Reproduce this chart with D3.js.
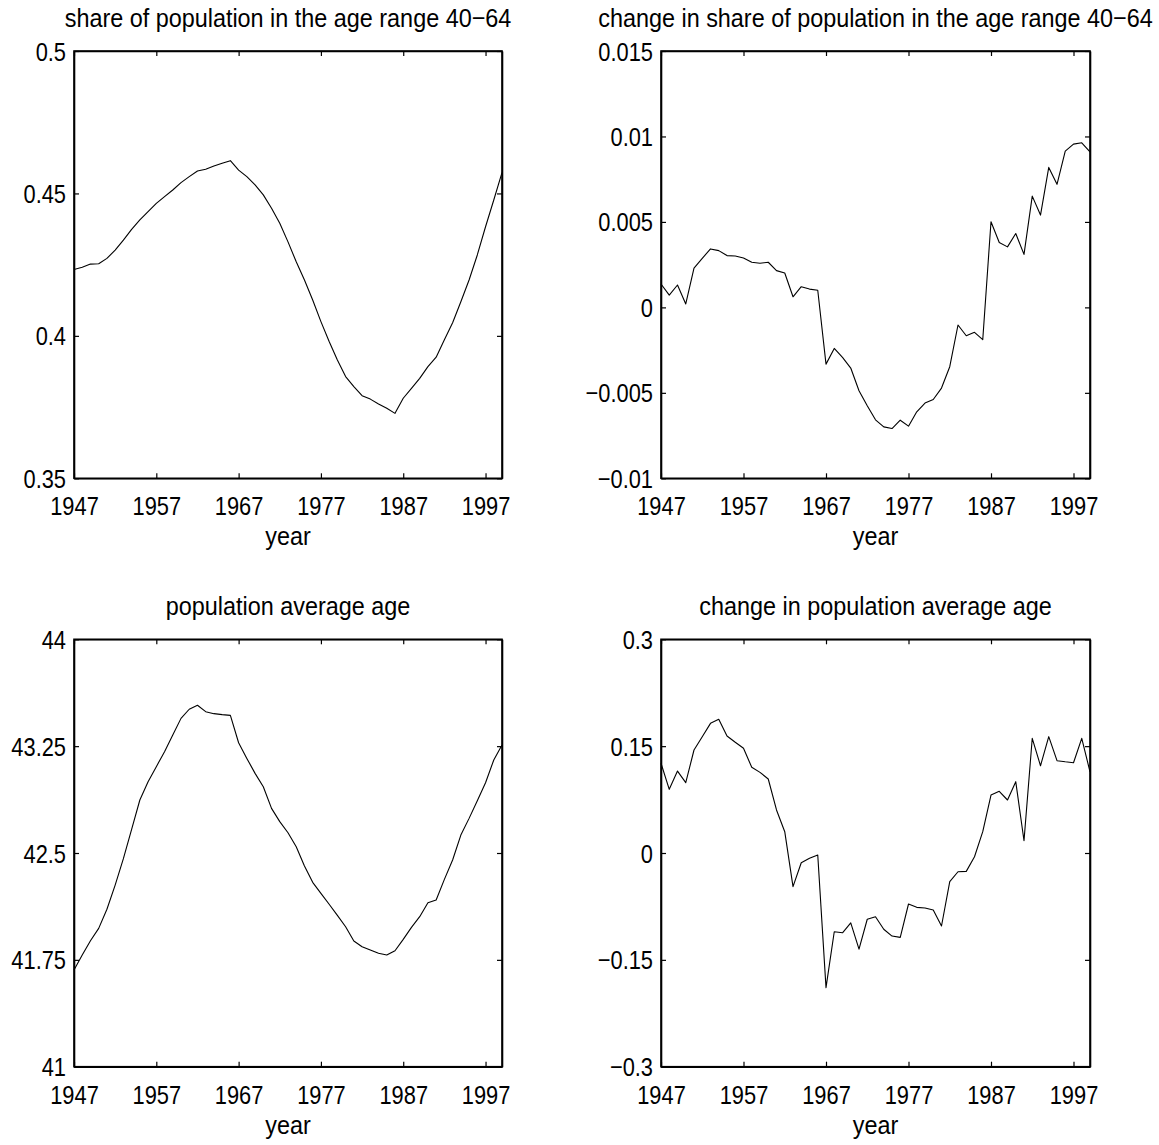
<!DOCTYPE html>
<html>
<head>
<meta charset="utf-8">
<script src="https://cdn.jsdelivr.net/npm/d3@7"></script>
<style>
  html, body { margin: 0; padding: 0; background: #fff; }
  svg { display: block; }
  text { font-family: "Liberation Sans", Arial, Helvetica, sans-serif; fill: #000; }
</style>
</head>
<body>
<svg id="chart" width="1159" height="1145"></svg>
<script>
// ---- data ----
const years = d3.range(1947, 2000);
const xTickValues = [1947, 1957, 1967, 1977, 1987, 1997];
const xTickLabels = ["1947", "1957", "1967", "1977", "1987", "1997"];

const share4064 = [0.4233,0.4241,0.4252,0.4253,0.4272,0.4301,0.4336,0.4374,0.4407,0.4436,
  0.4465,0.4489,0.4512,0.4538,0.4559,0.4579,0.4585,0.4596,0.4606,0.4615,
  0.4582,0.4559,0.4530,0.4495,0.4448,0.4395,0.4330,0.4260,0.4196,0.4126,
  0.4050,0.3980,0.3915,0.3857,0.3822,0.3790,0.3778,0.3761,0.3746,0.3728,
  0.3781,0.3816,0.3851,0.3892,0.3925,0.3986,0.4046,0.4120,0.4196,0.4284,
  0.4383,0.4477,0.4573];

const changeShare = [0.00137,0.00072,0.00131,0.0002,0.0023,0.00287,0.00342,0.00332,0.00303,0.00301,
  0.00289,0.00264,0.00258,0.00264,0.00215,0.00201,0.00062,0.00121,0.00107,0.001,
  -0.00332,-0.0024,-0.00293,-0.00355,-0.00488,-0.00576,-0.00658,-0.00699,-0.00709,-0.0066,
  -0.00695,-0.00611,-0.0056,-0.00539,-0.00472,-0.00347,-0.00103,-0.00166,-0.00146,-0.00189,
  0.00501,0.0038,0.00354,0.00432,0.0031,0.00651,0.0054,0.00819,0.0072,0.00914,
  0.00955,0.00963,0.0091];

const avgAge = [41.679,41.784,41.884,41.971,42.105,42.275,42.46,42.666,42.872,43.0,
  43.106,43.211,43.328,43.445,43.509,43.537,43.492,43.478,43.471,43.466,
  43.274,43.164,43.059,42.965,42.813,42.72,42.642,42.544,42.409,42.294,
  42.217,42.14,42.062,41.982,41.882,41.842,41.819,41.796,41.784,41.814,
  41.894,41.978,42.053,42.151,42.17,42.315,42.451,42.626,42.743,42.867,
  42.993,43.153,43.258];

const changeAge = [0.126,0.0894,0.115,0.0987,0.1446,0.1633,0.182,0.1877,0.1642,0.1554,
  0.147,0.1203,0.1132,0.1039,0.0604,0.0299,-0.0473,-0.0137,-0.0075,-0.0028,
  -0.189,-0.1105,-0.112,-0.098,-0.135,-0.093,-0.0894,-0.107,-0.1166,-0.1184,
  -0.0716,-0.0763,-0.0772,-0.08,-0.1025,-0.0403,-0.0263,-0.0258,-0.0052,0.0299,
  0.0814,0.0866,0.0744,0.1001,0.0172,0.161,0.1225,0.1633,0.1296,0.128,
  0.1267,0.161,0.114];

const titles = [
  "share of population in the age range 40\u221264",
  "change in share of population in the age range 40\u221264",
  "population average age",
  "change in population average age"
];

const yTicks1 = [0.35, 0.4, 0.45, 0.5];
const yLabels1 = ["0.35", "0.4", "0.45", "0.5"];
const yTicks2 = [-0.01, -0.005, 0, 0.005, 0.01, 0.015];
const yLabels2 = ["\u22120.01", "\u22120.005", "0", "0.005", "0.01", "0.015"];
const yTicks3 = [41, 41.75, 42.5, 43.25, 44];
const yLabels3 = ["41", "41.75", "42.5", "43.25", "44"];
const yTicks4 = [-0.3, -0.15, 0, 0.15, 0.3];
const yLabels4 = ["\u22120.3", "\u22120.15", "0", "0.15", "0.3"];

const xLabel = "year";

// ---- layout ----
const FS = 26;          // font size
const SX = 0.84;        // horizontal condensing of tick text
const SXT = 0.9;        // horizontal condensing of titles
const svg = d3.select("#chart");

const panels = [
  { left: 74,  top: 51,    w: 428, h: 427.3, series: share4064,   dom: [0.35, 0.5],   ticks: yTicks1, labels: yLabels1, title: titles[0] },
  { left: 661, top: 51,    w: 429, h: 427.3, series: changeShare, dom: [-0.01, 0.015], ticks: yTicks2, labels: yLabels2, title: titles[1] },
  { left: 74,  top: 639.3, w: 428, h: 427.4, series: avgAge,      dom: [41, 44],      ticks: yTicks3, labels: yLabels3, title: titles[2] },
  { left: 661, top: 639.3, w: 429, h: 427.4, series: changeAge,   dom: [-0.3, 0.3],   ticks: yTicks4, labels: yLabels4, title: titles[3] }
];

panels.forEach(p => {
  const g = svg.append("g").attr("transform", `translate(${p.left},${p.top})`);
  const x = d3.scaleLinear().domain([1947, 1999]).range([0, p.w]);
  const y = d3.scaleLinear().domain(p.dom).range([p.h, 0]);

  // data line
  const line = d3.line().x((d, i) => x(years[i])).y(d => y(d));
  g.append("path")
    .datum(p.series)
    .attr("d", line)
    .attr("fill", "none")
    .attr("stroke", "#000")
    .attr("stroke-width", 1.1)
    .attr("stroke-linejoin", "round");

  const tickLen = 5;

  // bottom axis (labels)
  const gb = g.append("g").attr("transform", `translate(0,${p.h})`)
    .call(d3.axisBottom(x).tickValues(xTickValues)
      .tickFormat((d, i) => xTickLabels[i])
      .tickSizeInner(-tickLen).tickSizeOuter(0).tickPadding(0));
  gb.selectAll("text").attr("y", null).attr("dy", null)
    .attr("transform", `translate(0,37) scale(${SX},1)`)
    .attr("text-anchor", "middle").style("font-size", FS + "px")
    .style("font-family", '"Liberation Sans", Arial, sans-serif');

  // top axis (no labels)
  g.append("g")
    .call(d3.axisTop(x).tickValues(xTickValues).tickFormat("")
      .tickSizeInner(-tickLen).tickSizeOuter(0));

  // left axis (labels)
  const gl = g.append("g")
    .call(d3.axisLeft(y).tickValues(p.ticks)
      .tickFormat((d, i) => p.labels[i])
      .tickSizeInner(-tickLen).tickSizeOuter(0).tickPadding(0));
  gl.selectAll("text").attr("x", null).attr("dy", null)
    .attr("transform", `translate(-8,9) scale(${SX},1)`)
    .attr("text-anchor", "end").style("font-size", FS + "px")
    .style("font-family", '"Liberation Sans", Arial, sans-serif');

  // right axis (no labels)
  g.append("g").attr("transform", `translate(${p.w},0)`)
    .call(d3.axisRight(y).tickValues(p.ticks).tickFormat("")
      .tickSizeInner(-tickLen).tickSizeOuter(0));

  // axis styling
  g.selectAll(".domain").attr("stroke", "#000").attr("stroke-width", 1.6);
  g.selectAll(".tick line").attr("stroke", "#000").attr("stroke-width", 1.2);

  // frame
  g.append("rect").attr("x", 0).attr("y", 0).attr("width", p.w).attr("height", p.h)
    .attr("fill", "none").attr("stroke", "#000").attr("stroke-width", 1.6);

  // title
  g.append("text")
    .attr("transform", `translate(${p.w / 2},-24) scale(${SXT},1)`)
    .attr("text-anchor", "middle")
    .style("font-size", FS + "px")
    .text(p.title);

  // x label
  g.append("text")
    .attr("transform", `translate(${p.w / 2},${p.h + 67}) scale(${SXT},1)`)
    .attr("text-anchor", "middle")
    .style("font-size", FS + "px")
    .text(xLabel);
});
</script>
</body>
</html>
